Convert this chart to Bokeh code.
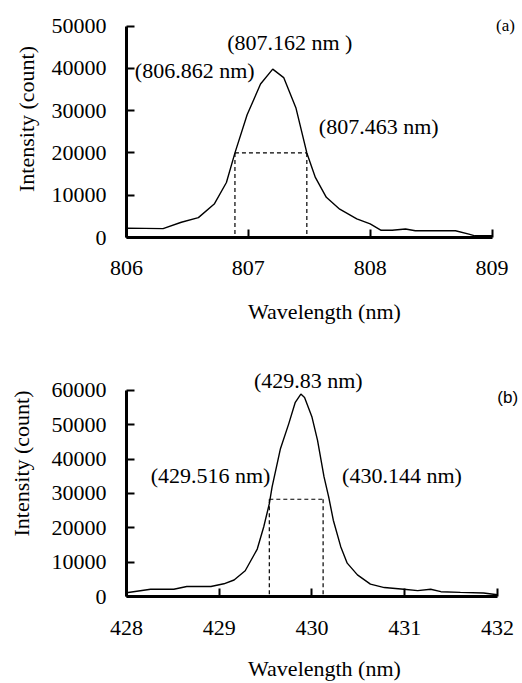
from bokeh.plotting import figure
from bokeh.models import Label, FixedTicker, Range1d, NumeralTickFormatter
from bokeh.layouts import column
from bokeh.embed import file_html
from bokeh.resources import INLINE

# ---------------- data (a) ----------------
wl_a = [806.00, 806.15, 806.30, 806.45, 806.59, 806.72, 806.82, 806.89, 806.99,
        807.10, 807.20, 807.29, 807.39, 807.48, 807.55, 807.64, 807.75, 807.89,
        808.00, 808.09, 808.18, 808.29, 808.37, 808.54, 808.70, 808.81, 808.86, 809.00]
int_a = [2200, 2150, 2100, 3600, 4700, 7900, 13000, 20000, 29000,
         36300, 39800, 37800, 30700, 20000, 14200, 9500, 6700, 4400,
         3200, 1700, 1700, 2000, 1600, 1600, 1600, 800, 400, 400]
fwhm_a = [806.89, 807.48]
half_a = 20000
xticks_a = [806, 807, 808, 809]
yticks_a = [0, 10000, 20000, 30000, 40000, 50000]
labels_a = ["(807.162 nm )", "(806.862 nm)", "(807.463 nm)"]

# ---------------- data (b) ----------------
wl_b = [428.00, 428.26, 428.51, 428.65, 428.91, 429.05, 429.16, 429.28, 429.41,
        429.48, 429.54, 429.57, 429.66, 429.75, 429.82, 429.88, 429.92, 430.00,
        430.06, 430.13, 430.18, 430.23, 430.31, 430.38, 430.49, 430.63, 430.78,
        430.99, 431.14, 431.28, 431.39, 431.60, 431.85, 432.00]
int_b = [1100, 2100, 2100, 2900, 2900, 3700, 4800, 7500, 13800,
         20300, 27000, 31900, 43000, 50300, 56500, 58900, 57900, 52200,
         45400, 34800, 29000, 22200, 14500, 9700, 6300, 3600, 2600,
         2100, 1700, 2100, 1400, 1200, 1000, 500]
fwhm_b = [429.54, 430.12]
half_b = 28300
xticks_b = [428, 429, 430, 431, 432]
yticks_b = [0, 10000, 20000, 30000, 40000, 50000, 60000]
labels_b = ["(429.83 nm)", "(429.516 nm)", "(430.144 nm)"]

SERIF = "Liberation Serif"
FS = "22px"


def make_panel(wl, inten, fwhm, half, xticks, yticks, texts, tag, tag_font,
               height, border_left, border_bottom, xr, yr, ylab_std, xlab_std,
               xtick_std, text_pos, tag_pos):
    p = figure(width=522, height=height, output_backend="svg", toolbar_location=None,
               x_range=Range1d(*xr), y_range=Range1d(*yr),
               min_border_left=border_left, min_border_right=0,
               min_border_top=0, min_border_bottom=border_bottom)
    p.outline_line_color = None
    p.xgrid.visible = False
    p.ygrid.visible = False
    p.background_fill_color = "white"
    p.border_fill_color = "white"

    # spectrum
    p.line(wl, inten, line_color="black", line_width=1.4)
    # FWHM dashed box
    p.segment(x0=[fwhm[0], fwhm[1], fwhm[0]], y0=[half, half, half],
              x1=[fwhm[0], fwhm[1], fwhm[1]], y1=[0, 0, half],
              line_color="black", line_width=1.2, line_dash="4 3")

    for ax, ticks in ((p.xaxis, xticks), (p.yaxis, yticks)):
        ax.ticker = FixedTicker(ticks=ticks)
        ax.bounds = (ticks[0], ticks[-1])
        ax.axis_line_width = 3
        ax.axis_line_color = "black"
        ax.major_tick_in = 8
        ax.major_tick_out = 0
        ax.major_tick_line_width = 2
        ax.minor_tick_line_color = None
        ax.major_label_text_font = SERIF
        ax.major_label_text_font_size = FS
        ax.major_label_text_color = "black"
        ax.axis_label_text_font = SERIF
        ax.axis_label_text_font_size = FS
        ax.axis_label_text_font_style = "normal"
        ax.axis_label_text_color = "black"
        ax.formatter = NumeralTickFormatter(format="0")
    p.xaxis.axis_label = "Wavelength (nm)"
    p.yaxis.axis_label = "Intensity (count)"
    p.xaxis.major_label_standoff = xtick_std
    p.yaxis.major_label_standoff = 20
    p.xaxis.axis_label_standoff = xlab_std
    p.yaxis.axis_label_standoff = ylab_std

    for t, (x, y) in zip(texts, text_pos):
        p.add_layout(Label(x=x, y=y, text=t, text_font=SERIF, text_font_size=FS,
                           text_align="center", text_baseline="middle",
                           text_color="black"))
    p.add_layout(Label(x=tag_pos[0], y=tag_pos[1], text=tag, text_font=tag_font,
                       text_font_size="17px", text_align="center",
                       text_baseline="middle", text_color="black"))
    return p


pa = make_panel(wl_a, int_a, fwhm_a, half_a, xticks_a, yticks_a, labels_a, "(a)", SERIF,
                height=330, border_left=121, border_bottom=93,
                xr=(806, 809.25), yr=(0, 56030), ylab_std=10, xlab_std=21,
                xtick_std=23,
                text_pos=[(807.34, 46100), (806.56, 39400), (808.07, 26170)],
                tag_pos=(809.11, 50050))

pb = make_panel(wl_b, int_b, fwhm_b, half_b, xticks_b, yticks_b, labels_b, "(b)", "Liberation Sans",
                height=353, border_left=126, border_bottom=86,
                xr=(428, 432.27), yr=(0, 77390), ylab_std=15, xlab_std=18,
                xtick_std=24,
                text_pos=[(429.96, 62800), (428.906, 35300), (430.97, 35300)],
                tag_pos=(432.11, 57900))

layout = column(pa, pb, spacing=0)
open("out.html", "w").write(file_html(layout, INLINE))
